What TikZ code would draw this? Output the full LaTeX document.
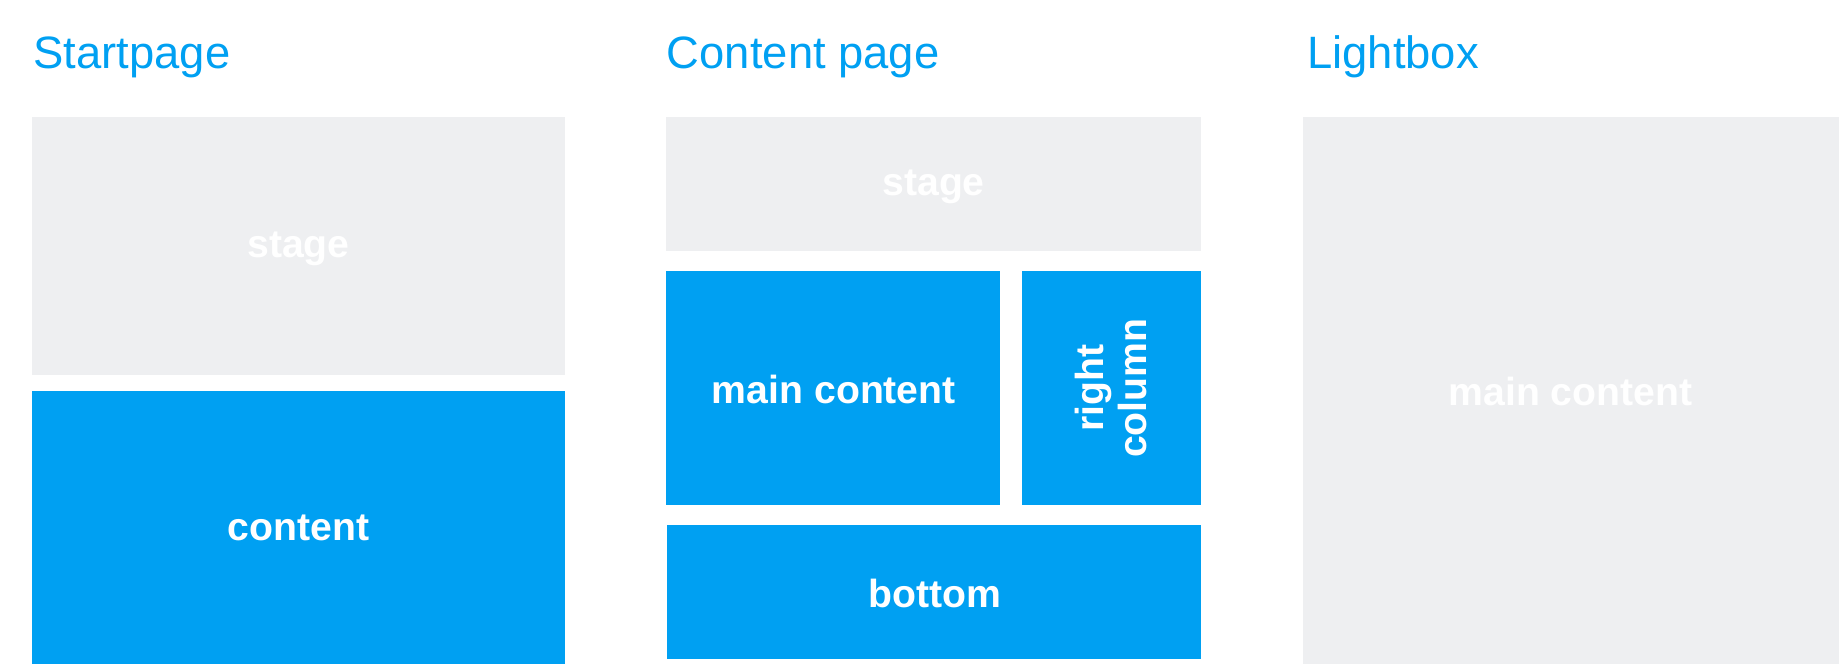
\documentclass[tikz,border=0pt]{standalone}
\usepackage{fontspec}
\setmainfont{Liberation Sans}
\definecolor{gr}{HTML}{EEEFF1}
\definecolor{bl}{HTML}{00A0F2}
\begin{document}
\begin{tikzpicture}[x=0.01cm,y=-0.01cm,
 title/.style={anchor=base west,text=bl,font=\fontsize{11}{13}\selectfont,inner sep=0},
 lbl/.style={text=white,font=\fontsize{9.5}{10.5}\selectfont\bfseries,align=center}]
\useasboundingbox (0,0) rectangle (1568,566);
\node[title] (t1) at (28,58) {Startpage};
\node[title] (t2) at (568,58) {Content page};
\node[title] (t3) at (1114,58) {Lightbox};
\fill[gr] (27,100) rectangle (482,320);
\node[lbl] (s1) at (254.5,212) {stage};
\fill[bl] (27,333) rectangle (482,566);
\node[lbl] (c1) at (254.5,450) {content};
\fill[gr] (568,100) rectangle (1024,214);
\node[lbl] (s2) at (796,159) {stage};
\fill[bl] (568,231) rectangle (853,431);
\node[lbl] (m2) at (711,332) {main content};
\fill[bl] (871,231) rectangle (1024,431);
\node[lbl,rotate=90] (r2) at (947,331) {right\\column};
\fill[bl] (569,448) rectangle (1024,562);
\node[lbl] (b2) at (797,506) {bottom};
\fill[gr] (1111,100) rectangle (1568,566);
\node[lbl] (m3) at (1339,334) {main content};
\end{tikzpicture}
\end{document}
